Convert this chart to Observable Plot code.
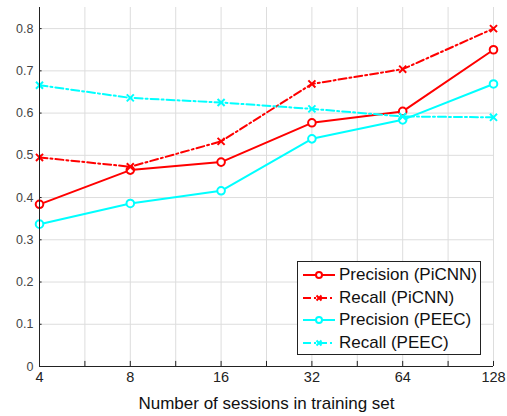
<!DOCTYPE html>
<html><head><meta charset="utf-8">
<script src="https://cdn.jsdelivr.net/npm/d3@7"></script>
<script src="https://cdn.jsdelivr.net/npm/@observablehq/plot@0.6"></script>
<style>
body{margin:0;background:#fff;font-family:"Liberation Sans",Arial,sans-serif;}
#wrap{position:relative;width:507px;height:416px;}
#legend{position:absolute;left:297px;top:261px;width:184px;height:94px;border:1px solid #222;background:#fff;font-size:17px;color:#111;box-sizing:border-box;padding-top:2px;}
#legend .row{display:flex;align-items:center;height:22.5px;white-space:nowrap;}
#legend svg{margin-left:4px;margin-right:3px;flex:none;}
</style></head><body>
<div id="wrap"><div id="chart"></div><div id="legend"></div></div>
<script>
const sessions = [4, 8, 16, 32, 64, 128];
const precisionPiCNN = [0.384, 0.465, 0.484, 0.577, 0.604, 0.750];
const recallPiCNN    = [0.495, 0.473, 0.533, 0.669, 0.704, 0.800];
const precisionPEEC  = [0.337, 0.386, 0.416, 0.539, 0.584, 0.669];
const recallPEEC     = [0.666, 0.636, 0.625, 0.610, 0.592, 0.590];
const xTicks = [4, 8, 16, 32, 64, 128];
const xGrid = [4, 5.657, 8, 11.314, 16, 22.627, 32, 45.255, 64, 90.51, 128];
const yTicks = [0, 0.1, 0.2, 0.3, 0.4, 0.5, 0.6, 0.7, 0.8];
const seriesNames = ["Precision (PiCNN)", "Recall (PiCNN)", "Precision (PEEC)", "Recall (PEEC)"];
const seriesValues = [precisionPiCNN, recallPiCNN, precisionPEEC, recallPEEC];
const seriesColors = ["#ff0000", "#ff0000", "#00ffff", "#00ffff"];
const seriesDash = [null, "8,3,2,3", null, "8,3,2,3"];
const seriesSymbol = ["circle", "times", "circle", "times"];

const rows = [];
seriesNames.forEach((name, i) => sessions.forEach((s, j) => rows.push({series: name, x: s, y: seriesValues[i][j], i})));

const marks = [
  Plot.ruleX(xGrid, {stroke: "#ddd", strokeWidth: 1, y1: 0, y2: 0.85}),
  Plot.ruleY(yTicks.filter(d => d > 0), {stroke: "#ddd", strokeWidth: 1}),
  Plot.ruleX(xGrid, {stroke: "#222", y1: 0, y2: 0.012}),
  Plot.ruleY(yTicks, {stroke: "#222", x1: 4, x2: 4.08}),
  Plot.axisX({ticks: xTicks, tickFormat: d => String(d), tickSize: 0, tickPadding: 5, fontSize: 14.5, color: "#222", label: null}),
  Plot.axisX({ticks: [], label: "Number of sessions in training set", labelArrow: "none", labelAnchor: "center", labelOffset: 42, fontSize: 17, color: "#111", dx: -6}),
  Plot.axisY({ticks: yTicks, tickFormat: d => d === 0 ? "0" : d.toFixed(1), tickSize: 0, tickPadding: 6, fontSize: 12.5, color: "#444", label: null})
];
seriesNames.forEach((name, i) => {
  const d = rows.filter(r => r.i === i);
  marks.push(Plot.line(d, {x: "x", y: "y", stroke: seriesColors[i], strokeWidth: 2, strokeDasharray: seriesDash[i]}));
  marks.push(Plot.dot(d, {x: "x", y: "y", stroke: seriesColors[i], strokeWidth: 2, fill: seriesSymbol[i] === "circle" ? "white" : "none", symbol: seriesSymbol[i], r: seriesSymbol[i] === "circle" ? 3.8 : 3.3}));
});
marks.push(Plot.ruleX([4], {stroke: "#222", y1: 0, y2: 0.85}));
marks.push(Plot.ruleY([0], {stroke: "#222"}));

const chart = Plot.plot({
  width: 507, height: 416,
  marginLeft: 39, marginRight: 14, marginTop: 7, marginBottom: 50,
  style: {fontFamily: "Liberation Sans, Arial, sans-serif", background: "#fff"},
  x: {type: "log", base: 2, domain: [4, 128]},
  y: {domain: [0, 0.85]},
  marks
});
document.getElementById("chart").appendChild(chart);

const lg = document.getElementById("legend");
seriesNames.forEach((name, i) => {
  const row = document.createElement("div"); row.className = "row";
  const marker = seriesSymbol[i] === "circle"
    ? `<circle cx="17" cy="7" r="3" fill="white" stroke="${seriesColors[i]}" stroke-width="2"/>`
    : `<path d="M14.5,4.5L19.5,9.5M19.5,4.5L14.5,9.5" stroke="${seriesColors[i]}" stroke-width="2"/>`;
  row.innerHTML = `<svg width="34" height="14"><line x1="1" y1="7" x2="33" y2="7" stroke="${seriesColors[i]}" stroke-width="2" ${seriesDash[i] ? `stroke-dasharray="${seriesDash[i]}"` : ""}/>${marker}</svg><span>${name}</span>`;
  lg.appendChild(row);
});
</script>
</body></html>
